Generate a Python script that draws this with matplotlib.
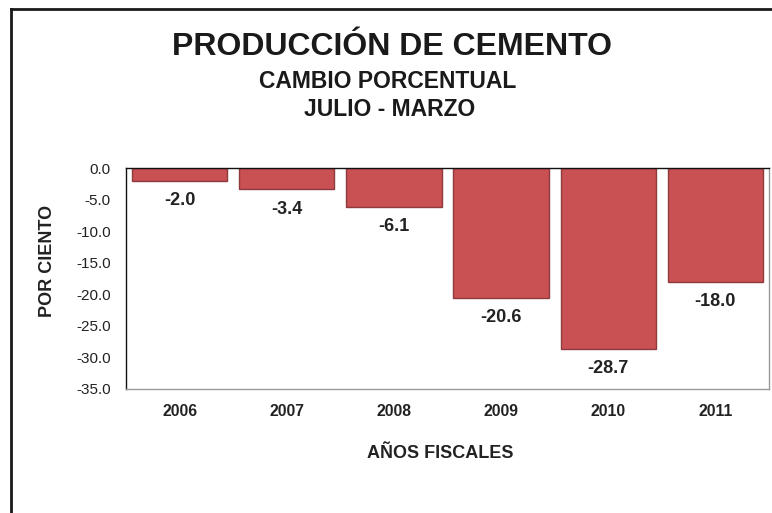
import numpy as np
import matplotlib
matplotlib.use('Agg')
import matplotlib.pyplot as plt
from matplotlib.lines import Line2D

plt.rcParams['font.family'] = ['Liberation Sans', 'DejaVu Sans']

# datos
anios = ['2006', '2007', '2008', '2009', '2010', '2011']
cambio = [-2.0, -3.4, -6.1, -20.6, -28.7, -18.0]
yticks = [0, -5, -10, -15, -20, -25, -30, -35]

W, H = 772, 513
fig = plt.figure(figsize=(W/100, H/100), dpi=100)

# marco exterior (cortado a la derecha y abajo)
fig.add_artist(Line2D([11/W, 1.0], [1-9/H, 1-9/H], transform=fig.transFigure, color='#1a1a1a', lw=2))
fig.add_artist(Line2D([11/W, 11/W], [0, 1-9/H], transform=fig.transFigure, color='#1a1a1a', lw=2))

ax = fig.add_axes([126/W, 1-389/H, (769-126)/W, (389-168)/H])
x = np.arange(len(anios))
ax.bar(x, cambio, width=0.89, color='#C95053', edgecolor='#8E3B3D', lw=1)
for xi, v in zip(x, cambio):
    ax.annotate('%.1f' % v, (xi, v), xytext=(0, -8), textcoords='offset points',
                ha='center', va='top', fontsize=13, fontweight='bold', color='#222222')

ax.set_xlim(-0.5, len(anios)-0.5)
ax.set_ylim(-35, 0)
ax.set_yticks(yticks)
ax.set_yticklabels(['%.1f' % t for t in yticks], fontsize=11, color='#222222')
ax.set_xticks(x)
ax.set_xticklabels(anios, fontsize=11.3, fontweight='bold', color='#222222')
ax.tick_params(axis='both', length=0)
ax.tick_params(axis='x', pad=11)
ax.tick_params(axis='y', pad=11)
ax.spines['top'].set_color('#111111')
ax.spines['left'].set_color('#111111')
ax.spines['right'].set_color('#999999')
ax.spines['bottom'].set_color('#999999')
for s in ax.spines.values():
    s.set_linewidth(1)

fig.text(47/W, 1-261/H, 'POR CIENTO', rotation=90, ha='center', va='center',
         fontsize=13, fontweight='bold', color='#222222')
fig.text(440/W, 1-453/H, 'AÑOS FISCALES', ha='center', va='center',
         fontsize=13, fontweight='bold', color='#222222')

fig.text(392/W, 1-47/H, 'PRODUCCIÓN DE CEMENTO', ha='center', va='center',
         fontsize=23, fontweight='bold', color='#1a1a1a')
fig.text(388/W, 1-82/H, 'CAMBIO PORCENTUAL', ha='center', va='center',
         fontsize=16.5, fontweight='bold', color='#1a1a1a')
fig.text(390/W, 1-110/H, 'JULIO - MARZO', ha='center', va='center',
         fontsize=16.5, fontweight='bold', color='#1a1a1a')

fig.savefig('out.png', dpi=100)
